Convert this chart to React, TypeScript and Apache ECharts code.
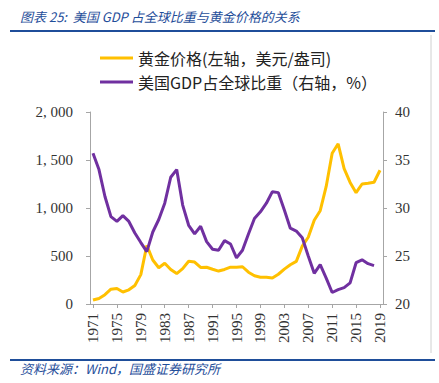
import React, { useEffect, useRef } from "react";
import * as echarts from "echarts";

const years: string[] = [];
for (let y = 1971; y <= 2019; y++) years.push(String(y));

const goldPrice = [
  41, 58, 97, 154, 161, 125, 148, 193, 306, 610, 458, 378, 424, 360, 317, 368, 445, 437, 381, 383,
  362, 343, 360, 384, 384, 388, 331, 294, 279, 279, 271, 310, 363, 409, 444, 603, 695, 872, 972, 1225,
  1570, 1669, 1411, 1266, 1160, 1250, 1257, 1268, 1393,
];

const usGdpShare = [
  35.7, 34.0, 31.2, 29.1, 28.6, 29.2, 28.6, 27.4, 26.4, 25.45, 27.5, 28.8, 30.5, 33.2, 34.0, 30.3, 28.2, 27.3, 28.1, 26.5,
  25.7, 25.6, 26.6, 26.25, 24.8, 25.6, 27.3, 28.9, 29.6, 30.5, 31.7, 31.6, 29.8, 27.9, 27.6, 26.9, 25.0, 23.2, 24.1, 22.7,
  21.2, 21.5, 21.7, 22.2, 24.3, 24.6, 24.2, 24.0,
];

const leftTicks = { min: 0, max: 2000, interval: 500 };
const rightTicks = { min: 20, max: 40, interval: 5 };

const seriesNames = ["黄金价格(左轴，美元/盎司)", "美国GDP占全球比重（右轴，%）"];

const title = "图表 25:  美国 GDP 占全球比重与黄金价格的关系";
const source = "资料来源：Wind，国盛证券研究所";

const BLUE = "#1F4E9A";
const GOLD = "#FFC000";
const PURPLE = "#7030A0";
const AXIS = "#A6A6A6";
const SERIF = "'Liberation Serif', 'Times New Roman', serif";
const CJK = "'Noto Sans CJK SC', sans-serif";

function fmtLeft(v: number): string {
  if (v >= 1000) {
    return `${Math.floor(v / 1000)}, ${String(v % 1000).padStart(3, "0")}`;
  }
  return String(v);
}

export default function App() {
  const ref = useRef<HTMLDivElement>(null);
  useEffect(() => {
    if (!ref.current) return;
    const chart = echarts.init(ref.current, undefined, { renderer: "svg" });
    chart.setOption({
      animation: false,
      backgroundColor: "#fff",
      grid: { left: 90, right: 56, top: 112, bottom: 79, containLabel: false },
      legend: {
        orient: "vertical",
        left: 95,
        top: 45,
        itemWidth: 33,
        itemHeight: 3,
        itemGap: 8,
        icon: "rect",
        textStyle: { fontFamily: CJK, fontSize: 16, color: "#222" },
        data: seriesNames,
      },
      xAxis: {
        type: "category",
        data: years,
        boundaryGap: true,
        axisLine: { lineStyle: { color: AXIS, width: 1 } },
        axisTick: { show: true, alignWithLabel: true, interval: 3, length: 4, lineStyle: { color: AXIS } },
        axisLabel: {
          interval: 3,
          rotate: 90,
          fontFamily: SERIF,
          fontSize: 15,
          color: "#333",
          margin: 9,
        },
        splitLine: { show: false },
      },
      yAxis: [
        {
          type: "value",
          min: leftTicks.min,
          max: leftTicks.max,
          interval: leftTicks.interval,
          position: "left",
          axisLine: { show: true, lineStyle: { color: AXIS } },
          axisTick: { show: true, length: 4, lineStyle: { color: AXIS } },
          axisLabel: { fontFamily: SERIF, fontSize: 15, color: "#333", margin: 17, formatter: fmtLeft },
          splitLine: { show: false },
        },
        {
          type: "value",
          min: rightTicks.min,
          max: rightTicks.max,
          interval: rightTicks.interval,
          position: "right",
          axisLine: { show: true, lineStyle: { color: AXIS } },
          axisTick: { show: true, length: 4, lineStyle: { color: AXIS } },
          axisLabel: { fontFamily: SERIF, fontSize: 15, color: "#333", margin: 12 },
          splitLine: { show: false },
        },
      ],
      series: [
        {
          name: seriesNames[0],
          type: "line",
          yAxisIndex: 0,
          data: goldPrice,
          showSymbol: false,
          symbol: "none",
          lineStyle: { color: GOLD, width: 3 },
          itemStyle: { color: GOLD },
        },
        {
          name: seriesNames[1],
          type: "line",
          yAxisIndex: 1,
          data: usGdpShare,
          showSymbol: false,
          symbol: "none",
          lineStyle: { color: PURPLE, width: 3 },
          itemStyle: { color: PURPLE },
        },
      ],
      graphic: [
        {
          type: "text",
          left: 20,
          top: 10,
          style: { text: title, fill: BLUE, font: `italic 13px ${CJK}` },
        },
        {
          type: "line",
          shape: { x1: 10, y1: 31, x2: 435, y2: 31 },
          style: { stroke: BLUE, lineWidth: 2 },
        },
        {
          type: "line",
          shape: { x1: 431, y1: 35, x2: 431, y2: 353 },
          style: { stroke: "#D0D0D0", lineWidth: 1 },
        },
        {
          type: "line",
          shape: { x1: 10, y1: 360, x2: 435, y2: 360 },
          style: { stroke: BLUE, lineWidth: 2 },
        },
        {
          type: "text",
          left: 20,
          top: 362,
          style: { text: source, fill: BLUE, font: `italic 13px ${CJK}` },
        },
      ],
    });
    return () => chart.dispose();
  }, []);
  return (
    <div
      ref={ref}
      style={{ position: "absolute", left: 0, top: 0, width: 439, height: 383, background: "#fff" }}
    />
  );
}
